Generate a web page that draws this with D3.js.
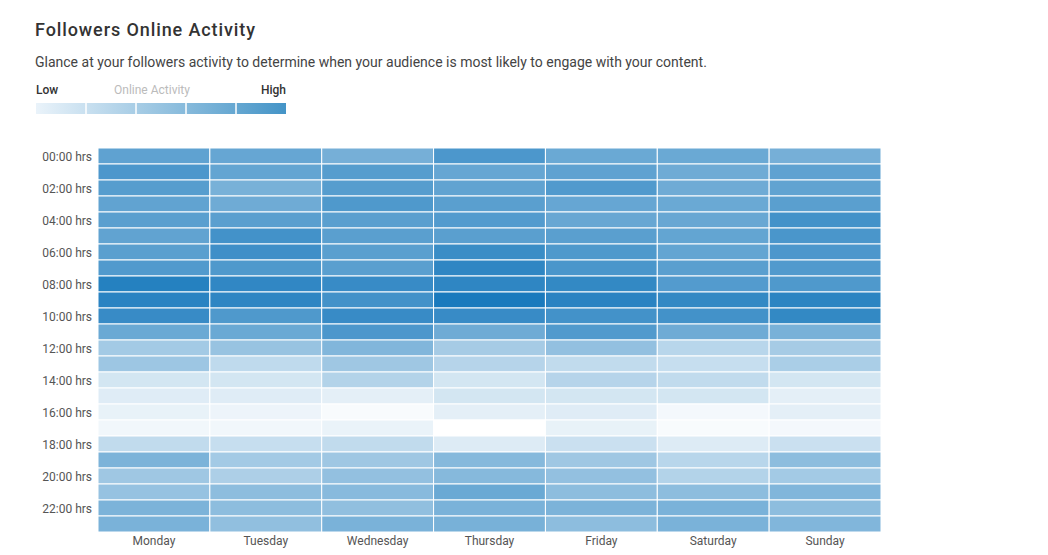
<!DOCTYPE html>
<html>
<head>
<meta charset="utf-8">
<script src="https://cdn.jsdelivr.net/npm/d3@7"></script>
<style>
  body { margin: 0; background: #fff; font-family: Roboto, "Noto Sans", sans-serif; }
</style>
</head>
<body>
<div id="chart"></div>
<script>
const days = ["Monday", "Tuesday", "Wednesday", "Thursday", "Friday", "Saturday", "Sunday"];
const hours = d3.range(24);
const hourLabels = hours.map(h => (h < 10 ? "0" : "") + h + ":00 hrs");

// activity per hour (rows), one column per day Mon..Sun
const activity = [
    [70, 67, 60, 78, 65, 65, 60],
    [78, 68, 74, 67, 70, 63, 70],
    [74, 59, 74, 69, 76, 63, 69],
    [69, 63, 77, 72, 67, 65, 72],
    [72, 72, 72, 75, 66, 66, 82],
    [69, 82, 72, 72, 72, 68, 79],
    [72, 84, 72, 86, 77, 68, 78],
    [76, 77, 72, 91, 79, 72, 76],
    [95, 90, 87, 91, 89, 75, 77],
    [93, 91, 82, 100, 93, 89, 92],
    [87, 77, 87, 87, 82, 82, 89],
    [65, 65, 78, 63, 76, 63, 59],
    [40, 45, 55, 39, 47, 31, 39],
    [43, 28, 42, 32, 27, 25, 37],
    [19, 19, 33, 19, 32, 27, 19],
    [14, 14, 12, 19, 19, 19, 12],
    [10, 8, 3, 12, 14, 5, 12],
    [6, 6, 9, 0, 10, 3, 5],
    [27, 25, 27, 15, 23, 15, 23],
    [57, 40, 42, 53, 42, 31, 50],
    [42, 36, 47, 53, 47, 33, 40],
    [46, 50, 52, 65, 50, 50, 55],
    [57, 50, 48, 58, 57, 58, 50],
    [58, 48, 58, 59, 50, 58, 55]
];

const cells = [];
activity.forEach((row, h) => row.forEach((v, d) => cells.push({ hour: h, day: days[d], value: v })));

const width = 1048;
const height = 555;
const gridLeft = 98, gridRight = 881, gridTop = 148, gridBottom = 532;

const svg = d3.select("#chart")
    .append("svg")
    .attr("width", width)
    .attr("height", height);

const color = d3.scaleLinear()
    .domain(d3.extent(cells, d => d.value))
    .range(["#ffffff", "#1a7abd"]);

const x = d3.scaleBand().domain(days).range([gridLeft, gridRight]);
const y = d3.scaleBand().domain(hours).range([gridTop, gridBottom]);

// title + description
svg.append("text")
    .attr("x", 35)
    .attr("y", 36)
    .style("font-size", "18px")
    .style("font-weight", 500)
    .style("letter-spacing", "0.9px")
    .attr("fill", "#333")
    .text("Followers Online Activity");

svg.append("text")
    .attr("x", 35)
    .attr("y", 67)
    .style("font-size", "14px")
    .attr("fill", "#444")
    .text("Glance at your followers activity to determine when your audience is most likely to engage with your content.");

// legend
const defs = svg.append("defs");
const grad = defs.append("linearGradient").attr("id", "legendGrad");
grad.append("stop").attr("offset", "0%").attr("stop-color", "#eaf3fa");
grad.append("stop").attr("offset", "100%").attr("stop-color", "#4494c7");

const lx = 36, lw = 250;
svg.append("rect")
    .attr("x", lx).attr("y", 103)
    .attr("width", lw).attr("height", 11)
    .attr("fill", "url(#legendGrad)");

d3.range(1, 5).forEach(i => {
    svg.append("line")
        .attr("x1", lx + i * lw / 5).attr("x2", lx + i * lw / 5)
        .attr("y1", 103).attr("y2", 114)
        .attr("stroke", "#fff").attr("stroke-width", 1.5);
});

svg.append("text").attr("x", lx).attr("y", 94)
    .style("font-size", "12px").style("font-weight", 500).attr("fill", "#333").text("Low");
svg.append("text").attr("x", 152).attr("y", 94).attr("text-anchor", "middle")
    .style("font-size", "12px").attr("fill", "#bbb").text("Online Activity");
svg.append("text").attr("x", lx + lw).attr("y", 94).attr("text-anchor", "end")
    .style("font-size", "12px").style("font-weight", 500).attr("fill", "#333").text("High");

// heatmap
svg.selectAll("rect.cell")
    .data(cells)
    .enter()
    .append("rect")
    .attr("class", "cell")
    .attr("x", d => x(d.day))
    .attr("y", d => y(d.hour))
    .attr("width", x.bandwidth())
    .attr("height", y.bandwidth())
    .attr("fill", d => color(d.value))
    .attr("stroke", "#fff")
    .attr("stroke-width", 1);

// axes
svg.selectAll("text.hour")
    .data(hours.filter(h => h % 2 === 0))
    .enter()
    .append("text")
    .attr("class", "hour")
    .attr("x", gridLeft - 6)
    .attr("y", d => y(d) + y.bandwidth() / 2 + 1)
    .attr("dy", "0.35em")
    .attr("text-anchor", "end")
    .style("font-size", "12px")
    .attr("fill", "#555")
    .text(d => hourLabels[d]);

svg.selectAll("text.day")
    .data(days)
    .enter()
    .append("text")
    .attr("class", "day")
    .attr("x", d => x(d) + x.bandwidth() / 2)
    .attr("y", gridBottom + 13)
    .attr("text-anchor", "middle")
    .style("font-size", "12px")
    .attr("fill", "#555")
    .text(d => d);
</script>
</body>
</html>
